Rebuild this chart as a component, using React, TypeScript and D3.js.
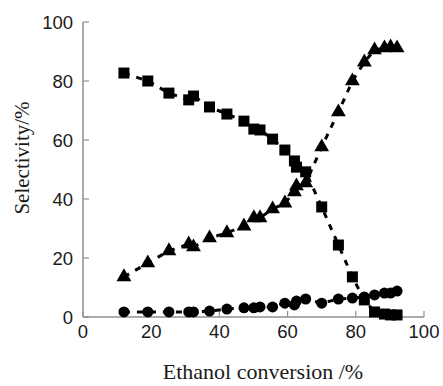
import React from "react";
import * as d3 from "d3";

const conversion = [12, 19, 25.2, 31, 32.4, 37.1, 42.2, 47.2, 50.1, 51.9, 55.6, 59.2, 62, 62.6, 65.3, 70, 74.9, 79, 82.5, 85.5, 88.4, 90.2, 92.1];
const squareSel = [82.7, 80.0, 75.9, 73.6, 74.9, 71.2, 68.8, 66.4, 63.7, 63.4, 60.3, 56.6, 52.9, 50.8, 49.2, 37.3, 24.4, 13.6, 5.8, 1.7, 1.0, 0.7, 0.7];
const triangleSel = [13.6, 18.3, 22.4, 24.7, 23.7, 26.8, 28.5, 30.8, 33.6, 33.6, 36.6, 38.6, 42.4, 44.4, 45.4, 57.6, 69.5, 80.0, 86.4, 90.5, 91.2, 91.5, 91.2];
const circleSel = [1.7, 1.7, 1.7, 1.7, 1.7, 2.0, 2.7, 3.1, 3.1, 3.4, 3.4, 4.7, 4.1, 5.4, 6.1, 4.7, 6.1, 6.4, 6.8, 7.5, 8.1, 8.1, 8.8];
const xTicks = [0, 20, 40, 60, 80, 100];
const yTicks = [0, 20, 40, 60, 80, 100];

const W = 443, H = 386;
const x = d3.scaleLinear().domain([0, 100]).range([83, 424]);
const y = d3.scaleLinear().domain([0, 100]).range([317, 22]);

const axisColor = "#8f8f8f";
const textColor = "#1a1a1a";

export default function App() {
  const line = d3.line<number>().x((_, i) => x(conversion[i])).y((v) => y(v));
  const series = [squareSel, triangleSel, circleSel];
  const tri = d3.symbol().type(d3.symbolTriangle).size(95)();
  return (
    <svg width={W} height={H} style={{ position: "absolute", left: 0, top: 0, background: "#fff" }}>
      {/* axes */}
      <line x1={x(0)} x2={x(100)} y1={y(0)} y2={y(0)} stroke={axisColor} strokeWidth={1.5} />
      <line x1={x(0)} x2={x(0)} y1={y(0)} y2={y(100)} stroke={axisColor} strokeWidth={1.5} />
      {xTicks.map((t) => (
        <g key={"x" + t}>
          <line x1={x(t)} x2={x(t)} y1={y(0)} y2={y(0) - 6} stroke={axisColor} strokeWidth={1.2} />
          <text x={x(t)} y={338} textAnchor="middle" fontFamily="Liberation Sans, Arial, sans-serif" fontSize={18.5} fill={textColor}>{t}</text>
        </g>
      ))}
      {yTicks.map((t) => (
        <g key={"y" + t}>
          <line x1={x(0)} x2={x(0) + 6} y1={y(t)} y2={y(t)} stroke={axisColor} strokeWidth={1.2} />
          <text x={73} y={y(t) + 6.5} textAnchor="end" fontFamily="Liberation Sans, Arial, sans-serif" fontSize={18.5} fill={textColor}>{t}</text>
        </g>
      ))}
      {/* dashed lines */}
      {series.map((s, k) => (
        <path key={"l" + k} d={line(s) || ""} fill="none" stroke="#000" strokeWidth={3} strokeDasharray="6,7" />
      ))}
      {/* markers */}
      {squareSel.map((v, i) => (
        <rect key={"s" + i} x={x(conversion[i]) - 5.5} y={y(v) - 5.5} width={11} height={11} fill="#000" />
      ))}
      {triangleSel.map((v, i) => (
        <path key={"t" + i} d={tri || ""} transform={`translate(${x(conversion[i])},${y(v)})`} fill="#000" />
      ))}
      {circleSel.map((v, i) => (
        <circle key={"c" + i} cx={x(conversion[i])} cy={y(v)} r={5.5} fill="#000" />
      ))}
      {/* titles */}
      <text x={263} y={379} textAnchor="middle" fontFamily="Liberation Serif, Times New Roman, serif" fontSize={22} fill={textColor}>Ethanol conversion /%</text>
      <text transform={`translate(29,158) rotate(-90)`} textAnchor="middle" fontFamily="Liberation Serif, Times New Roman, serif" fontSize={21} fill={textColor}>Selectivity/%</text>
    </svg>
  );
}
